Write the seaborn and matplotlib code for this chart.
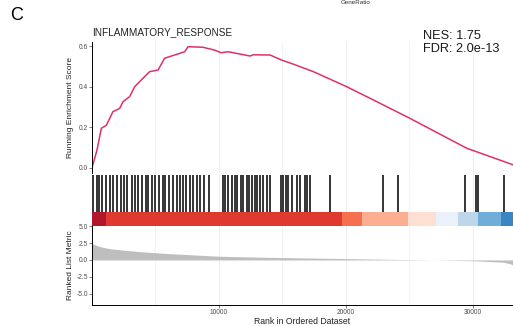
import numpy as np
import pandas as pd
import matplotlib
matplotlib.use("Agg")
import matplotlib.pyplot as plt
import seaborn as sns

# ---- data ----
es_rank = [0, 400, 735, 1130, 1650, 2180, 2440, 2965, 3360, 3880, 4540, 5200, 5720,
           6510, 7300, 7560, 8740, 9660, 10180, 10710, 11390, 12440, 12700,
           14020, 14930, 15850, 17430, 20050, 21890, 25040, 29500, 33170]
es_value = [0.0, 0.09, 0.195, 0.21, 0.277, 0.293, 0.326, 0.351, 0.40, 0.433, 0.474,
            0.482, 0.54, 0.556, 0.572, 0.597, 0.594, 0.58, 0.567, 0.572, 0.564,
            0.551, 0.557, 0.556, 0.531, 0.511, 0.474, 0.40, 0.343, 0.244,
            0.097, 0.015]

hit_px = [93.3, 96.7, 99.3, 101.7, 106, 110, 113.3, 117.3, 120.7, 124, 126.7,
          131.7, 135, 138.3, 141.7, 146, 148.3, 151.7, 155, 159.3, 162.7, 165,
          169.3, 172.7, 176.7, 180, 182.7, 186, 190, 193.3, 197.3, 200, 204,
          209.3, 222.7, 225, 228.3, 231.7, 235, 237, 240.7, 243.3, 246.7, 249.3,
          251.7, 255, 257.3, 260, 263.3, 266.7, 270, 280.7, 283.3, 286, 288.3,
          291.7, 297.3, 300, 305, 307.3, 310, 330, 382.7, 398.3, 465.5, 475.7,
          478.2, 504.2]
hit_rank = [round((p - 92) * 78.74) for p in hit_px]

band_start = [0, 1100, 19660, 21230, 24900, 27090, 28840, 30420, 32180]
band_end = [1100, 19660, 21230, 24900, 27090, 28840, 30420, 32180, 34000]
band_color = ["#B2182B", "#E03A30", "#F4704F", "#FBAE92", "#FDE0D2",
              "#EAF1FB", "#BDD6E9", "#6EAED8", "#3B86C2"]

metric_rank = [0, 300, 800, 1500, 2500, 4000, 6000, 8000, 10000, 13000, 16000,
               20000, 24000, 27000, 30000, 31500, 32440, 33000, 33200]
metric_value = [2.45, 2.2, 1.9, 1.65, 1.45, 1.2, 0.95, 0.75, 0.55, 0.42, 0.32,
                0.2, 0.08, 0.0, -0.12, -0.25, -0.35, -0.6, -0.95]

x_ticks = [10000, 20000, 30000]
es_ticks = [0.0, 0.2, 0.4, 0.6]
metric_ticks = [5.0, 2.5, 0.0, -2.5, -5.0]

sns.set_theme(style="white")
plt.rcParams['font.family'] = ['Liberation Sans', 'DejaVu Sans']

W, H = 513, 326
fig = plt.figure(figsize=(W / 100, H / 100), dpi=100)

def rect(top, bottom):
    return [92 / W, 1 - bottom / H, 1 - 92 / W, (bottom - top) / H]

xmax = 33150
grid_c = "#EBEBEB"
tick_c = "#4D4D4D"

ax1 = fig.add_axes(rect(42, 173))
ax2 = fig.add_axes(rect(173, 226))
ax3 = fig.add_axes(rect(226, 305))

for ax in (ax1, ax2, ax3):
    ax.set_xlim(0, xmax)
    ax.set_facecolor("none")
    for xv in range(5000, 35000, 5000):
        ax.axvline(xv, color=grid_c, lw=0.6 if xv % 10000 == 0 else 0.4, zorder=0)
    for s in ax.spines.values():
        s.set_visible(False)

# top panel
df_es = pd.DataFrame({"rank": es_rank, "es": es_value})
sns.lineplot(data=df_es, x="rank", y="es", ax=ax1, color="#E0306A", lw=1.1)
ax1.set_ylim(-0.025, 0.62)
ax1.set_yticks(es_ticks)
ax1.set_yticklabels([f"{v:.1f}" for v in es_ticks])
ax1.set_xticks([])
ax1.set_xlabel("")
ax1.set_ylabel("Running Enrichment Score", fontsize=6, color="#222222", labelpad=3)
ax1.spines["left"].set_visible(True)
ax1.spines["left"].set_color("black")
ax1.spines["left"].set_linewidth(0.7)
ax1.tick_params(axis="y", labelsize=4.8, colors=tick_c, length=2, width=0.5,
                left=True, pad=1)

# middle panel
ax2.set_ylim(0, 1)
ax2.vlines(hit_rank, 0.264, 0.962, color="black", lw=1.3, alpha=0.85, zorder=2)
for s, e, c in zip(band_start, band_end, band_color):
    ax2.fill_between([s, e], 0, 0.264, color=c, lw=0, zorder=3)
ax2.set_xticks([])
ax2.set_yticks([])

# bottom panel
ax3.fill_between(metric_rank, 0, metric_value, color="#BEBEBE", lw=0, zorder=2)
ax3.set_ylim(-6.7, 5.05)
ax3.set_yticks(metric_ticks)
ax3.set_yticklabels([f"{v:.1f}" for v in metric_ticks])
ax3.set_xticks(x_ticks)
ax3.set_xticklabels([str(v) for v in x_ticks])
ax3.spines["left"].set_visible(True)
ax3.spines["bottom"].set_visible(True)
for k in ("left", "bottom"):
    ax3.spines[k].set_color("black")
    ax3.spines[k].set_linewidth(0.7)
ax3.tick_params(axis="both", labelsize=4.8, colors=tick_c, length=2, width=0.5,
                left=True, bottom=True, pad=1)
ax3.set_ylabel("Ranked List Metric", fontsize=6, color="#222222", labelpad=2)
ax3.set_xlabel("Rank in Ordered Dataset", fontsize=6.2, color="#222222", labelpad=0.5)

# texts
fig.text(92 / W, 1 - 35 / H, "INFLAMMATORY_RESPONSE", fontsize=7.2,
         color="#222222", ha="left", va="baseline")
fig.text(423 / W, 1 - 30 / H, "NES: 1.75\nFDR: 2.0e-13", fontsize=9.2,
         color="#1a1a1a", ha="left", va="top", linespacing=1.15)
fig.text(10 / W, 1 - 7 / H, "C", fontsize=13, color="black", ha="left", va="top")
fig.text(356 / W, 1 - 0.5 / H, "GeneRatio", fontsize=4.5, color="#333333",
         ha="center", va="top")

fig.savefig("out.png", dpi=100)
